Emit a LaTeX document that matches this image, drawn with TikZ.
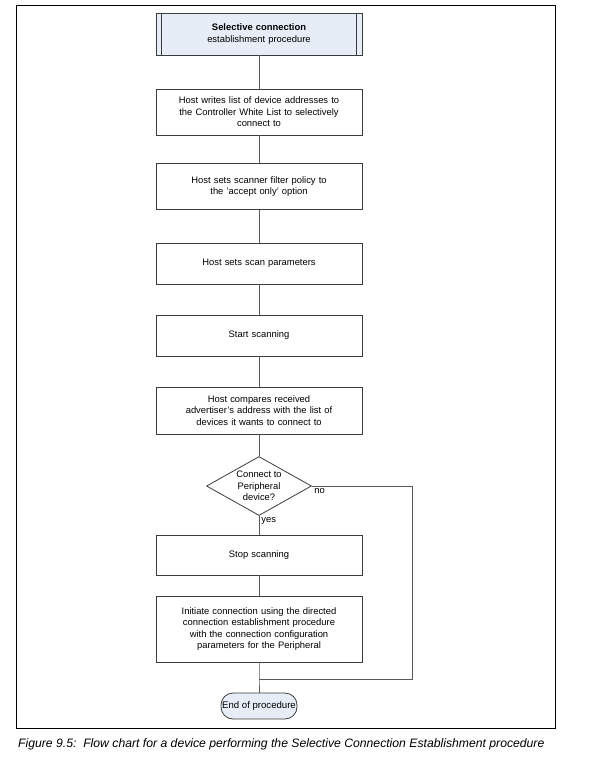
\documentclass[tikz,border=0pt]{standalone}
\usepackage{fontspec}
\setmainfont{Liberation Sans}
\usetikzlibrary{shapes.geometric}

\definecolor{lineGray}{HTML}{5A5A5A}
\definecolor{boxEdge}{HTML}{3C3C3C}
\definecolor{termFill}{HTML}{E6EDF7}

\begin{document}
\begin{tikzpicture}[
            x=1pt, y=1pt,
            font=\fontsize{9.4}{11.5}\selectfont,
            block/.style={draw=boxEdge, rectangle, line width=0.8pt, align=center,
                            text width=196pt, inner sep=0pt,
                            minimum width=206pt, minimum height=46pt},
            decision/.style={draw=boxEdge, diamond, line width=0.8pt, align=center,
                            aspect=1.78, inner sep=0pt,
                            minimum width=105pt, minimum height=59pt},
            terminal/.style={draw=boxEdge, fill=termFill, rectangle, line width=0.8pt,
                            rounded corners=12pt, inner sep=0pt,
                            minimum width=76pt, minimum height=26pt,
                            font=\fontsize{9.6}{11}\selectfont},
            link/.style={draw=lineGray, line width=0.9pt}
        ]

            \useasboundingbox (0,0) rectangle (599,-766);
            \draw[line width=1pt] (16,-5) rectangle (555,-728);

            \node[block, fill=termFill, minimum height=42pt] (title) at (259,-34)
                {\textbf{Selective connection}\\establishment procedure};
            \draw[boxEdge, line width=0.8pt] ([xshift=6pt]title.north west) -- ([xshift=6pt]title.south west);
            \draw[boxEdge, line width=0.8pt] ([xshift=-6pt]title.north east) -- ([xshift=-6pt]title.south east);

            \node[block, below of=title, node distance=78pt] (hostlist)
                {Host writes list of device addresses to\\the Controller White List to selectively\\connect to};
            \node[block, below of=hostlist, node distance=74.5pt] (filter)
                {Host sets scanner filter policy to\\the 'accept only' option};
            \node[block, below of=filter, node distance=77pt, minimum height=41pt] (params)
                {Host sets scan parameters};
            \node[block, below of=params, node distance=72pt, minimum height=41pt] (startscan)
                {Start scanning};
            \node[block, below of=startscan, node distance=75pt, minimum height=47pt] (compare)
                {Host compares received\\advertiser's address with the list of\\devices it wants to connect to};
            \node[decision, below of=compare, node distance=75.5pt] (peripheral)
                {Connect to\\Peripheral\\device?};
            \node[block, below of=peripheral, node distance=69pt, minimum height=40pt] (stopscan)
                {Stop scanning};
            \node[block, below of=stopscan, node distance=74pt, minimum height=66pt] (initiate)
                {Initiate connection using the directed\\connection establishment procedure\\with the connection configuration\\parameters for the Peripheral};
            \node[terminal, below of=initiate, node distance=77pt] (finish) {End of procedure};

            \coordinate (merge) at (259,-679);
            \coordinate (loopback) at (412,-679);

            \draw[link] (title) -- (hostlist);
            \draw[link] (hostlist) -- (filter);
            \draw[link] (filter) -- (params);
            \draw[link] (params) -- (startscan);
            \draw[link] (startscan) -- (compare);
            \draw[link] (compare) -- (peripheral);
            \draw[link] (peripheral) -- node[near start, right, inner sep=2pt] {yes} (stopscan);
            \draw[link] (stopscan) -- (initiate);
            \draw[link] (peripheral.east) node[below right, inner sep=2pt] {no} -| (loopback) -- (merge);
            \draw[link] (initiate) -- (merge) -- (finish);

            \node[anchor=west, inner sep=0pt, font=\fontsize{12.2}{14}\selectfont\itshape] (caption) at (18,-744)
                {Figure 9.5:\ \ Flow chart for a device performing the Selective Connection Establishment procedure};

        \end{tikzpicture}
\end{document}
